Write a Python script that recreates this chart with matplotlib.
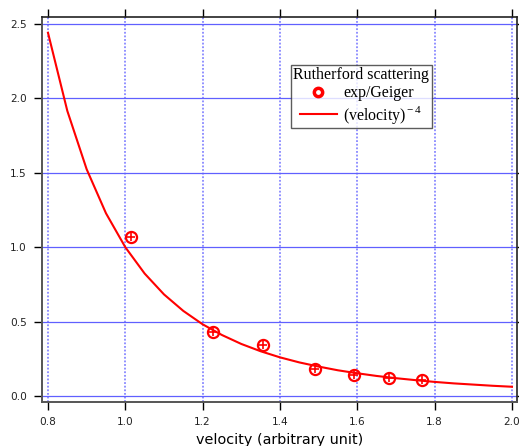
import numpy as np
import matplotlib
matplotlib.use('Agg')
import matplotlib.pyplot as plt

# data
exp_v = [1.015, 1.227, 1.356, 1.491, 1.591, 1.682, 1.767]
exp_y = [1.069, 0.430, 0.343, 0.183, 0.141, 0.121, 0.106]

fit_v = [0.80, 0.85, 0.90, 0.95, 1.00, 1.05, 1.10, 1.15, 1.20, 1.25, 1.30, 1.35, 1.40,
         1.45, 1.50, 1.55, 1.60, 1.65, 1.70, 1.75, 1.80, 1.85, 1.90, 1.95, 2.00]
fit_y = [2.441, 1.916, 1.524, 1.228, 1.000, 0.823, 0.683, 0.572, 0.482, 0.410, 0.350,
         0.301, 0.260, 0.226, 0.198, 0.173, 0.153, 0.135, 0.120, 0.107, 0.095, 0.085,
         0.077, 0.069, 0.0625]

xticks = [0.8, 1.0, 1.2, 1.4, 1.6, 1.8, 2.0]
yticks = [0.0, 0.5, 1.0, 1.5, 2.0, 2.5]

fig = plt.figure(figsize=(5.19, 4.46), dpi=100)
ax = fig.add_axes([42/519, 1-402/446, 475/519, 385/446])

ax.set_xlim(0.7845, 2.013)
ax.set_ylim(-0.040, 2.547)

for xv in xticks:
    ax.axvline(xv, color='#8888ff', lw=1.3, ls=(0, (1, 1)), zorder=1)
for yv in yticks:
    ax.axhline(yv, color='#6060ff', lw=0.9, zorder=1)

vlab = '(velocity)$^{\\,\\mathregular{-\\,4}}$'
ax.plot(fit_v, fit_y, color='red', lw=1.5, zorder=3)
ax.plot(exp_v, exp_y, ls='none', marker='o', ms=8, mfc='none', mec='red', mew=1.6, zorder=4)
ax.plot(exp_v, exp_y, ls='none', marker='+', ms=6, mec='red', mew=1.2, zorder=4)
h_exp = ax.plot([], [], ls='none', marker='o', ms=6, mfc='white', mec='red', mew=2.5)[0]
h_fit = ax.plot([], [], color='red', lw=1.5)[0]

ax.set_xticks(xticks)
ax.set_yticks(yticks)
ax.set_xticklabels(['%.1f' % t for t in xticks])
ax.set_yticklabels(['%.1f' % t for t in yticks])
ax.tick_params(axis='both', direction='out', length=6, width=1, labelsize=7.6, pad=5,
               colors='black', labelcolor='#222222')
ax.tick_params(axis='x', top=True)
ax.tick_params(axis='y', right=True, length=2)
ax.tick_params(axis='y', left=True, length=6, which='major')

for s in ['left', 'bottom']:
    ax.spines[s].set_color('#555555')
    ax.spines[s].set_linewidth(1.4)
for s in ['top', 'right']:
    ax.spines[s].set_color('#222222')
    ax.spines[s].set_linewidth(1.2)

ax.set_xlabel('velocity (arbitrary unit)', fontsize=10.4, labelpad=4)

leg = ax.legend([h_exp, h_fit], ['exp/Geiger', vlab],
                title='Rutherford scattering', loc='upper left',
                bbox_to_anchor=(0.524, 0.876), frameon=True, fancybox=False,
                edgecolor='#333333', borderpad=0.15, handlelength=2.3, handletextpad=0.4,
                labelspacing=0.15, borderaxespad=0,
                prop={'family': 'Liberation Serif', 'size': 11.4},
                title_fontproperties={'family': 'Liberation Serif', 'size': 11.4})
leg.get_frame().set_linewidth(1.0)

fig.savefig('out.png', dpi=100)
